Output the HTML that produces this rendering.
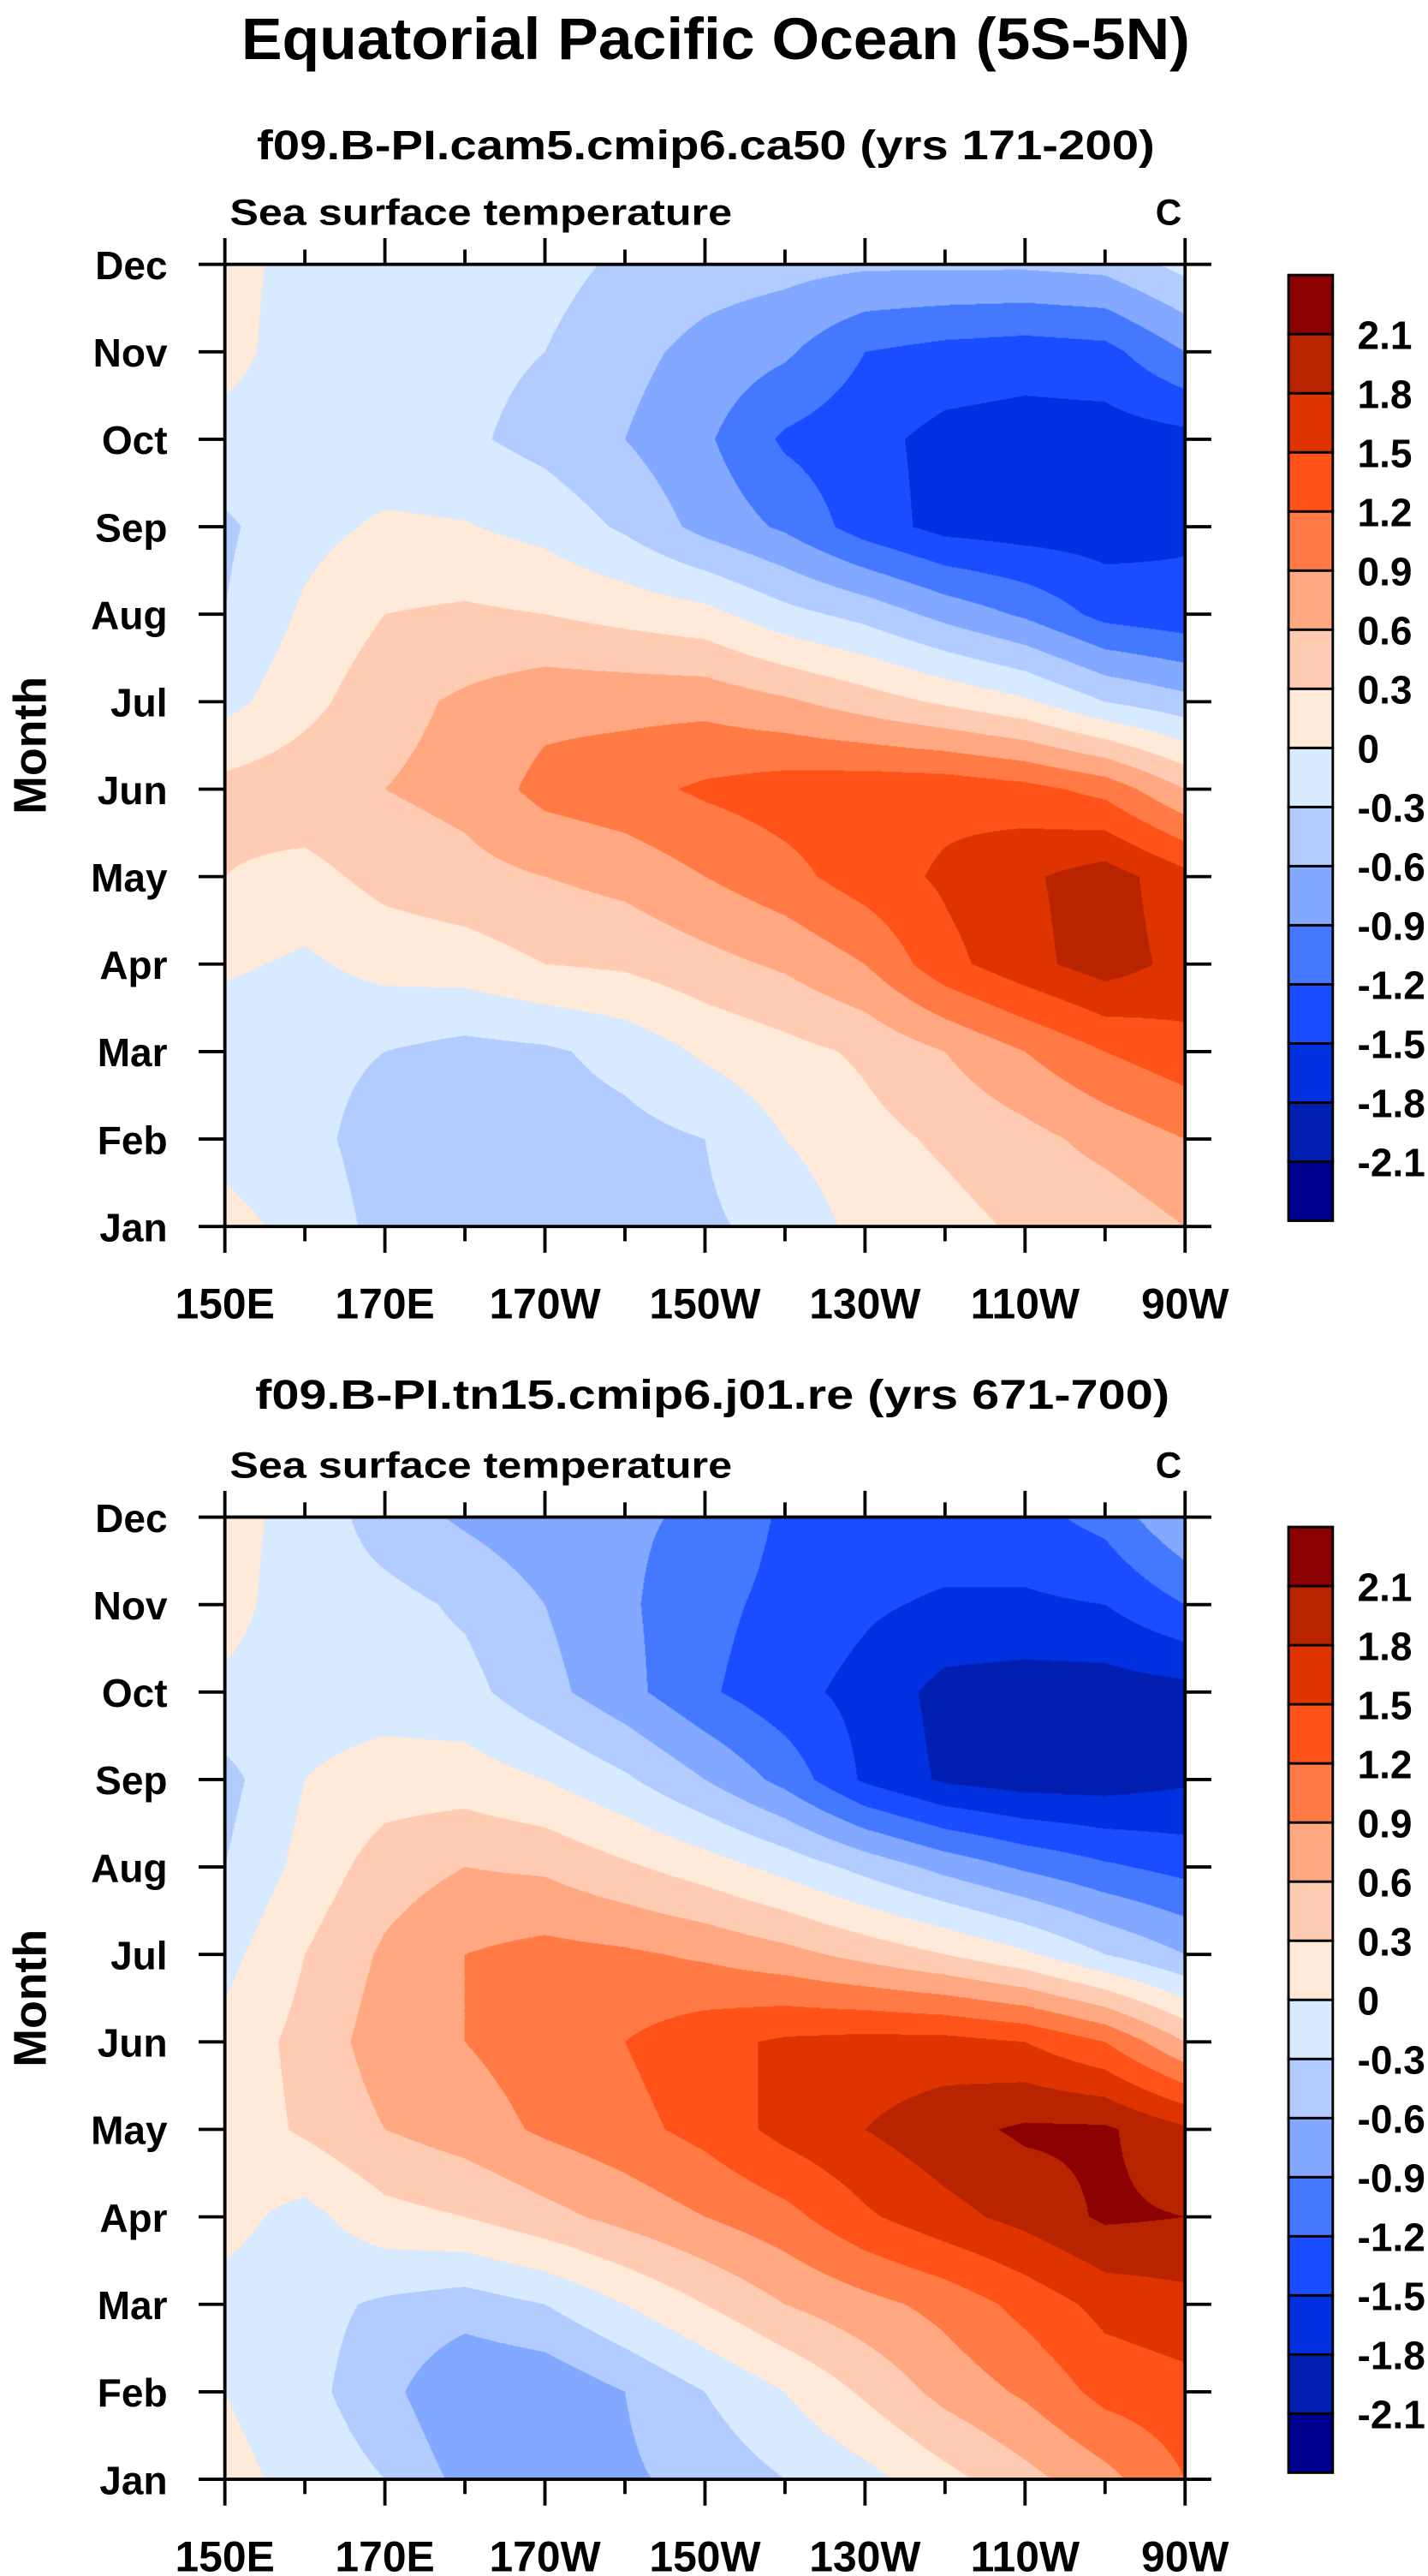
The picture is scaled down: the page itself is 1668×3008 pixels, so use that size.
<!DOCTYPE html>
<html><head><meta charset="utf-8">
<style>
html,body{margin:0;padding:0;background:#fff;}
body{width:1668px;height:3008px;overflow:hidden;position:relative;}
#wrap{position:absolute;left:0;top:0;width:870px;height:1569px;transform:scale(1.917241);transform-origin:0 0;}
canvas{position:absolute;}
svg{position:absolute;left:0;top:0;}
text{font-family:"Liberation Sans",Arial,sans-serif;font-weight:bold;fill:#000;}
</style></head>
<body>
<div id="wrap">
<canvas id="cvTop" width="1122" height="1124" style="left:137px;top:161px;width:585px;height:586px"></canvas>
<canvas id="cvBot" width="1122" height="1124" style="left:137px;top:924px;width:585px;height:586px"></canvas>
<svg id="ov" width="870" height="1569" viewBox="0 0 870 1569">
<text x="436" y="36" font-size="36" text-anchor="middle" textLength="578" lengthAdjust="spacingAndGlyphs">Equatorial Pacific Ocean (5S-5N)</text>
<text x="430" y="97" font-size="25" text-anchor="middle" textLength="547" lengthAdjust="spacingAndGlyphs">f09.B-PI.cam5.cmip6.ca50 (yrs 171-200)</text>
<text x="434" y="858" font-size="25" text-anchor="middle" textLength="557" lengthAdjust="spacingAndGlyphs">f09.B-PI.tn15.cmip6.j01.re (yrs 671-700)</text>
</svg>
</div>
<script>
const months=["Jan","Feb","Mar","Apr","May","Jun","Jul","Aug","Sep","Oct","Nov","Dec"];
const lons=[150,160,170,180,190,200,210,220,230,240,250,260,270];
const xTickLabels=["150E","170E","170W","150W","130W","110W","90W"];
const xTickLons=[150,170,190,210,230,250,270];
const levels=[-2.1,-1.8,-1.5,-1.2,-0.9,-0.6,-0.3,0,0.3,0.6,0.9,1.2,1.5,1.8,2.1];
const levelLabels=["-2.1","-1.8","-1.5","-1.2","-0.9","-0.6","-0.3","0","0.3","0.6","0.9","1.2","1.5","1.8","2.1"];
const colors=["#000090","#001fb0","#0030e0","#1a4dff","#4479ff","#82a8ff","#b3ccff","#d8eaff","#ffe9d8","#ffcbb3","#ffa882","#ff7a45","#ff5219","#e03400","#b82400","#8b0000"];
// rows Jan..Dec, cols 150E..90W every 10 deg
const topField=[
[0.1,-0.1,-0.4,-0.4,-0.4,-0.4,-0.35,-0.2,0.1,0.2,0.35,0.4,0.6],
[-0.1,-0.2,-0.45,-0.45,-0.45,-0.4,-0.3,0.0,0.2,0.35,0.5,0.7,0.9],
[-0.2,-0.2,-0.3,-0.4,-0.35,-0.2,0.05,0.2,0.35,0.6,0.9,1.2,1.4],
[0.05,-0.05,0.1,0.15,0.3,0.35,0.5,0.65,0.9,1.4,1.7,1.95,1.7],
[0.3,0.2,0.4,0.5,0.6,0.7,0.9,1.1,1.35,1.55,1.75,1.95,1.6],
[0.4,0.5,0.6,0.7,1.0,1.1,1.25,1.35,1.4,1.4,1.3,1.1,0.6],
[-0.1,0.2,0.5,0.65,0.8,0.8,0.8,0.65,0.45,0.25,0.05,-0.3,-0.5],
[-0.3,0.05,0.3,0.35,0.3,0.2,0.1,-0.2,-0.4,-0.7,-0.95,-1.3,-1.4],
[-0.35,-0.1,0.05,0.02,-0.1,-0.35,-0.7,-0.95,-1.35,-1.6,-1.65,-1.65,-1.55],
[-0.1,-0.15,-0.2,-0.25,-0.4,-0.6,-0.85,-1.25,-1.4,-1.6,-1.65,-1.65,-1.6],
[0.1,-0.15,-0.2,-0.22,-0.3,-0.5,-0.7,-0.85,-1.2,-1.3,-1.35,-1.3,-0.9],
[0.1,-0.1,-0.2,-0.22,-0.2,-0.35,-0.45,-0.5,-0.55,-0.55,-0.55,-0.5,-0.2]
];
const bottomField=[
[0.1,-0.1,-0.3,-0.7,-0.7,-0.65,-0.5,-0.3,-0.1,0.2,0.5,0.8,1.2],
[0.0,-0.2,-0.5,-0.9,-0.85,-0.6,-0.3,0.0,0.35,0.7,0.95,1.3,1.4],
[-0.1,-0.2,-0.35,-0.45,-0.3,0.0,0.3,0.6,0.8,1.0,1.3,1.6,1.7],
[0.1,-0.1,0.2,0.3,0.5,0.7,0.9,1.1,1.45,1.7,1.9,2.15,2.1],
[0.1,0.35,0.6,0.75,0.95,1.1,1.3,1.6,1.8,2.0,2.15,2.15,1.85],
[0.1,0.4,0.75,0.9,1.05,1.2,1.4,1.55,1.6,1.6,1.5,1.2,0.6],
[-0.1,0.3,0.65,0.9,1.0,0.95,0.85,0.7,0.5,0.3,0.05,-0.3,-0.6],
[-0.3,0.1,0.45,0.6,0.55,0.35,0.15,-0.1,-0.4,-0.7,-0.95,-1.15,-1.3],
[-0.4,0.0,0.15,0.15,0.0,-0.25,-0.6,-1.0,-1.55,-1.85,-1.95,-1.95,-1.85],
[-0.05,-0.15,-0.15,-0.2,-0.5,-0.8,-1.15,-1.4,-1.6,-1.9,-1.95,-1.95,-1.9],
[0.1,-0.15,-0.2,-0.35,-0.6,-0.85,-1.1,-1.3,-1.45,-1.55,-1.55,-1.5,-1.2],
[0.1,-0.1,-0.45,-0.65,-0.8,-0.85,-0.95,-1.25,-1.3,-1.3,-1.3,-1.1,-0.6]
];

function hex(c){return [parseInt(c.substr(1,2),16),parseInt(c.substr(3,2),16),parseInt(c.substr(5,2),16)];}
const rgb=colors.map(hex);
function lvlIndex(v){let k=0;while(k<levels.length&&v>=levels[k])k++;return k;}
function sample(f,lon,m){
  let fi=(lon-lons[0])/(lons[1]-lons[0]);
  let i0=Math.min(Math.floor(fi),lons.length-2),tx=fi-i0;
  let j0=Math.min(Math.floor(m),months.length-2),ty=m-j0;
  if(j0<0){j0=0;ty=0;}
  const a=f[j0][i0],b=f[j0][i0+1],c=f[j0+1][i0],d=f[j0+1][i0+1];
  return (a*(1-tx)+b*tx)*(1-ty)+(c*(1-tx)+d*tx)*ty;
}
function drawField(id,f){
  const cv=document.getElementById(id),ctx=cv.getContext('2d');
  const W=cv.width,H=cv.height,img=ctx.createImageData(W,H);
  for(let y=0;y<H;y++){
    const m=(months.length-1)*(1-(y+0.5)/H);
    for(let x=0;x<W;x++){
      const lon=lons[0]+(lons[lons.length-1]-lons[0])*(x+0.5)/W;
      const c=rgb[lvlIndex(sample(f,lon,m))];
      const p=(y*W+x)*4;img.data[p]=c[0];img.data[p+1]=c[1];img.data[p+2]=c[2];img.data[p+3]=255;
    }
  }
  ctx.putImageData(img,0,0);
}
drawField('cvTop',topField);
drawField('cvBot',bottomField);

const NS="http://www.w3.org/2000/svg";
const ov=document.getElementById('ov');
function el(tag,attrs,txt){const e=document.createElementNS(NS,tag);for(const k in attrs)e.setAttribute(k,attrs[k]);if(txt!==undefined)e.textContent=txt;ov.appendChild(e);return e;}
const X0=137,X1=722;
function xs(lon){return X0+(lon-lons[0])/(lons[lons.length-1]-lons[0])*(X1-X0);}

function panel(top,name,cbTop){
  const Y0=top,Y1=top+586;
  const ys=i=>Y1-i/(months.length-1)*(Y1-Y0);
  let t=el('text',{x:140,y:top-24,'font-size':22,textLength:306,lengthAdjust:'spacingAndGlyphs'},'Sea surface temperature');
  
  
  t=el('text',{x:704,y:top-24,'font-size':22},'C');
  
  
  const fr=el('rect',{x:X0,y:Y0,width:X1-X0,height:Y1-Y0,fill:'none',stroke:'#000','stroke-width':2});
  
  
  months.forEach((mn,i)=>{
    const y=ys(i);
    const l=el('line',{x1:X0-16,x2:X0,y1:y,y2:y,stroke:'#000','stroke-width':2});
    
    
    const r=el('line',{x1:X1,x2:X1+16,y1:y,y2:y,stroke:'#000','stroke-width':2});
    
    
    const tx=el('text',{x:102,y:y+9,'font-size':24,'text-anchor':'end'},mn);
    
    
  });
  for(let lon=lons[0];lon<=lons[lons.length-1];lon+=10){
    const major=xTickLons.indexOf(lon)>=0,len=major?16:9,x=xs(lon);
    const b=el('line',{x1:x,x2:x,y1:Y1,y2:Y1+len,stroke:'#000','stroke-width':2});
    
    
    const u=el('line',{x1:x,x2:x,y1:Y0-len,y2:Y0,stroke:'#000','stroke-width':2});
    
    
  }
  xTickLons.forEach((lon,i)=>{
    const tx=el('text',{x:xs(lon),y:Y1+56,'font-size':26,'text-anchor':'middle'},xTickLabels[i]);
    
    
  });
  const my=(Y0+Y1)/2;
  const mt=el('text',{x:0,y:0,'font-size':28,'text-anchor':'middle',transform:`translate(28 ${my}) rotate(-90)`},'Month');
  
  
  const bh=36,cx=785,cw=27;
  for(let k=0;k<colors.length;k++){
    const y=cbTop+(colors.length-1-k)*bh;
    const r=el('rect',{x:cx,y:y,width:cw,height:bh,fill:colors[k],stroke:'#000','stroke-width':1.5});
    
    
  }
  levels.forEach((v,k)=>{
    const y=cbTop+(colors.length-1-k)*bh;
    const tx=el('text',{x:827,y:y+9,'font-size':24},levelLabels[k]);
    
    
  });
}
panel(161,'top-panel',167.5);
panel(924,'bottom-panel',930);
</script>
</body></html>
